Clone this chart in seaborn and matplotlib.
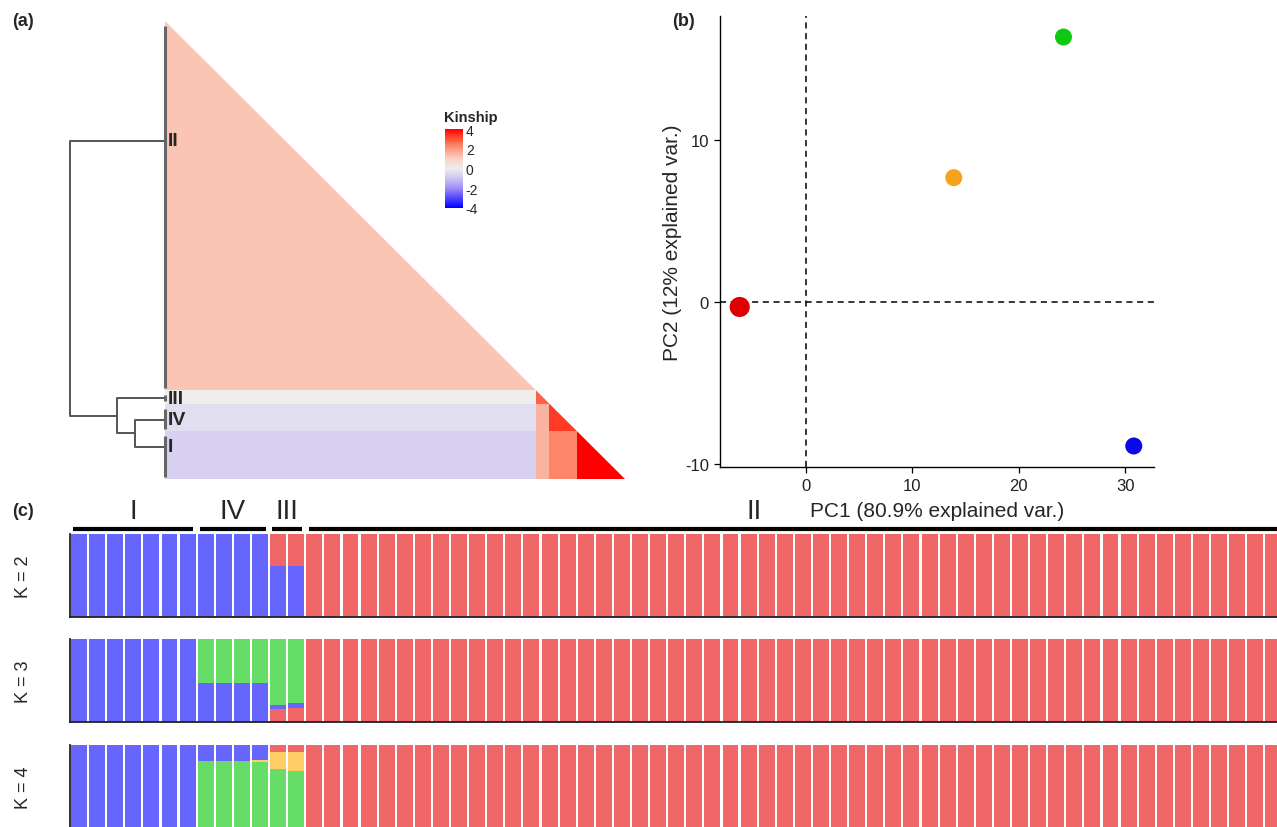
import numpy as np
import pandas as pd
import matplotlib
matplotlib.use("Agg")
import matplotlib.pyplot as plt
from matplotlib import font_manager
from matplotlib.colors import LinearSegmentedColormap
from matplotlib.patches import Polygon
from matplotlib.transforms import blended_transform_factory
import seaborn as sns

# ---------------- data ----------------
# (a) kinship: groups in heatmap order, block-level kinship values (lower triangle)
kin_groups = ["II", "III", "IV", "I"]
kin_sizes = [54, 2, 4, 7]
kin_block = [[1.2, np.nan, np.nan, np.nan],
             [0.0, 2.8, np.nan, np.nan],
             [-0.4, 1.5, 3.3, np.nan],
             [-0.7, 1.5, 2.3, 4.0]]
kin_ticks = [-4, -2, 0, 2, 4]
# dendrogram: leaf positions (row units) and merge heights
dendro_leaf_pos = [17.5, 55.2, 58.3, 62.3]
dendro_heights = [0.32, 0.50, 1.0]   # (IV,I), (III,(IV,I)), root

# (b) PCA
pca_groups = ["II", "III", "IV", "I"]
pc1 = [-6.2, 13.9, 24.2, 30.8]
pc2 = [-0.3, 7.7, 16.4, -8.9]
pca_colors = ["#DD0000", "#F5A21F", "#10C810", "#0808E8"]
pca_sizes = [210, 150, 150, 150]
pc_xticks = [0, 10, 20, 30]
pc_yticks = [-10, 0, 10]

# (c) STRUCTURE
struct_groups = ["I", "IV", "III", "II"]
struct_sizes = [7, 4, 2, 54]
header_label_x = [3, 8.5, 11.5, 37.3]
# cluster order listed top -> bottom of each bar
k2_clusters = ["red", "blue"]
k2_q = {"I": [[0.0, 1.0]], "IV": [[0.0, 1.0]],
        "III": [[0.38, 0.62], [0.38, 0.62]], "II": [[1.0, 0.0]]}
k3_clusters = ["green", "blue", "red"]
k3_q = {"I": [[0.0, 1.0, 0.0]], "IV": [[0.53, 0.47, 0.0]],
        "III": [[0.800, 0.048, 0.152], [0.776, 0.052, 0.172]],
        "II": [[0.0, 0.0, 1.0]]}
k4_clusters = ["red", "blue", "orange", "green"]
k4_q = {"I": [[0.0, 1.0, 0.0, 0.0]],
        "IV": [[0.0, 0.188, 0.0, 0.812], [0.0, 0.188, 0.0, 0.812],
               [0.0, 0.188, 0.0, 0.812], [0.0, 0.180, 0.028, 0.792]],
        "III": [[0.08, 0.0, 0.212, 0.708], [0.08, 0.0, 0.232, 0.688]],
        "II": [[1.0, 0.0, 0.0, 0.0]]}
struct_palette = {"red": "#F06666", "blue": "#6666FF",
                  "green": "#66DD66", "orange": "#FFCC66"}

# ---------------- style ----------------
sns.set_style("white")
avail = {f.name for f in font_manager.fontManager.ttflist}
narrow = "Liberation Sans Narrow" if "Liberation Sans Narrow" in avail else "Liberation Sans"
plt.rcParams["font.family"] = ["Liberation Sans", "DejaVu Sans"]
plt.rcParams["axes.unicode_minus"] = False

W, H = 1277, 828
fig = plt.figure(figsize=(W / 100, H / 100), dpi=100)


def ax_px(x0, y0, x1, y1):
    return fig.add_axes([x0 / W, 1 - y1 / H, (x1 - x0) / W, (y1 - y0) / H])


# ---------------- (a) kinship heatmap ----------------
n_kin = sum(kin_sizes)
grp_idx = np.repeat(np.arange(len(kin_groups)), kin_sizes)
blk = np.array(kin_block)
full = np.zeros((n_kin, n_kin))
for i in range(n_kin):
    for j in range(n_kin):
        a, b = grp_idx[i], grp_idx[j]
        full[i, j] = blk[max(a, b), min(a, b)]
mask = np.triu(np.ones_like(full, dtype=bool), k=1)

kin_cmap = LinearSegmentedColormap.from_list(
    "kin", [(0.0, "#0000FF"), (0.25, "#A08CF8"), (0.375, "#CEC4F2"),
            (0.5, "#EEEEEE"), (0.625, "#FCCFC2"), (0.75, "#FB9A82"),
            (0.875, "#FF5535"), (1.0, "#FF0000")])

ax_hm = ax_px(165, 22, 625, 480)
cax = ax_px(445, 130, 463, 209)
sns.heatmap(full, mask=mask, cmap=kin_cmap, vmin=-4, vmax=4, ax=ax_hm,
            cbar_ax=cax, xticklabels=False, yticklabels=False,
            cbar_kws={"ticks": kin_ticks})
ax_hm.axis("off")
tri = Polygon([(0, 0), (0, n_kin), (n_kin, n_kin)], closed=True,
              transform=ax_hm.transData)
ax_hm.collections[0].set_clip_path(tri)
cb = ax_hm.collections[0].colorbar
cb.outline.set_visible(False)
cax.tick_params(axis="y", which="both", direction="in", length=3,
                color="white", width=1, left=True, right=True,
                labelsize=10, pad=2)
cax.set_yticklabels([str(t) for t in kin_ticks])
fig.text(444 / W, 1 - 118 / H, "Kinship", fontsize=10.5, fontweight="bold",
         ha="left", va="center")

# dendrogram
ax_d = ax_px(60, 22, 165, 480)
ax_d.set_xlim(1.105, 0)
ax_d.set_ylim(n_kin, 0)
ax_d.axis("off")
y_ii, y_iii, y_iv, y_i = dendro_leaf_pos
h1, h2, h3 = dendro_heights
lc = "#555555"
c1 = (y_iv + y_i) / 2
ax_d.plot([0, h1, h1, 0], [y_iv, y_iv, y_i, y_i], color=lc, lw=1.4)
c2 = (y_iii + c1) / 2
ax_d.plot([0, h2, h2, h1], [y_iii, y_iii, c1, c1], color=lc, lw=1.4)
ax_d.plot([0, h3, h3, h2], [y_ii, y_ii, c2, c2], color=lc, lw=1.4)
# leaf bars
starts = np.cumsum([0] + kin_sizes[:-1])
for s, n in zip(starts, kin_sizes):
    ax_d.plot([0, 0], [s + 0.7, s + n - 0.35], color="#666666", lw=2.2,
              clip_on=False, solid_capstyle="butt")
for g, yp in zip(kin_groups, dendro_leaf_pos):
    ax_d.text(-0.03, yp, g, fontsize=14, fontweight="bold", va="center",
              ha="left", clip_on=False)

fig.text(12 / W, 1 - 22 / H, "(a)", fontsize=13, fontweight="bold",
         va="center", ha="left")

# ---------------- (b) PCA ----------------
ax_b = ax_px(720, 17, 1154, 468)
pca_df = pd.DataFrame({"PC1": pc1, "PC2": pc2, "group": pca_groups})
sns.scatterplot(data=pca_df, x="PC1", y="PC2", hue="group", size="group",
                palette=dict(zip(pca_groups, pca_colors)),
                sizes=dict(zip(pca_groups, pca_sizes)),
                linewidth=0, legend=False, ax=ax_b, zorder=3)
ax_b.axhline(0, color="black", ls=(0, (4, 3)), lw=1.1, zorder=1)
ax_b.axvline(0, color="black", ls=(0, (4, 3)), lw=1.1, zorder=1)
ax_b.set_xlim(-8.05, 32.7)
ax_b.set_ylim(-10.2, 17.7)
ax_b.set_xticks(pc_xticks)
ax_b.set_yticks(pc_yticks)
for s in ["top", "right"]:
    ax_b.spines[s].set_visible(False)
for s in ["left", "bottom"]:
    ax_b.spines[s].set_color("black")
    ax_b.spines[s].set_linewidth(1.0)
ax_b.tick_params(axis="both", direction="out", length=4, width=0.9,
                 color="black", labelsize=12, left=True, bottom=True, pad=4)
for lab in ax_b.get_xticklabels() + ax_b.get_yticklabels():
    lab.set_family([narrow, "DejaVu Sans"])
    lab.set_color("#222222")
ax_b.set_xlabel("PC1 (80.9% explained var.)", fontsize=15,
                family=[narrow, "DejaVu Sans"], labelpad=6)
ax_b.set_ylabel("PC2 (12% explained var.)", fontsize=15,
                family=[narrow, "DejaVu Sans"], labelpad=2)
fig.text(672 / W, 1 - 22 / H, "(b)", fontsize=13, fontweight="bold",
         va="center", ha="left")

# ---------------- (c) STRUCTURE ----------------


def build_long(qdict, clusters):
    rows = []
    ind = 0
    for g, n in zip(struct_groups, struct_sizes):
        q = qdict[g]
        for k in range(n):
            vals = q[k] if len(q) > 1 else q[0]
            for c, v in zip(clusters, vals):
                rows.append({"ind": ind, "cluster": c, "q": v})
            ind += 1
    return pd.DataFrame(rows)


n_ind = sum(struct_sizes)
rows_c = [("K = 2", k2_q, k2_clusters, 535, 618),
          ("K = 3", k3_q, k3_clusters, 640, 723),
          ("K = 4", k4_q, k4_clusters, 746, 829)]
axes_c = []
for lab, qd, cl, y0, y1 in rows_c:
    ax = ax_px(70, y0, 1277, y1)
    df = build_long(qd, cl)
    sns.histplot(data=df, x="ind", weights="q", hue="cluster", hue_order=cl,
                 multiple="stack", discrete=True, shrink=0.88,
                 palette=struct_palette, alpha=1, linewidth=0,
                 legend=False, ax=ax)
    ax.set_xlim(-0.5, n_ind - 0.8)
    ax.set_ylim(0, 1)
    ax.set_xticks([])
    ax.set_yticks([])
    ax.set_xlabel("")
    ax.set_ylabel(lab, fontsize=13, labelpad=27)
    for s in ["top", "right"]:
        ax.spines[s].set_visible(False)
    for s in ["left", "bottom"]:
        ax.spines[s].set_color("#222222")
        ax.spines[s].set_linewidth(1.3)
    axes_c.append(ax)

ax0 = axes_c[0]
tr = blended_transform_factory(ax0.transData, ax0.transAxes)
edges = np.cumsum([0] + struct_sizes) - 0.5
for i, g in enumerate(struct_groups):
    ax0.plot([edges[i] + 0.18, edges[i + 1] - 0.18], [1.065, 1.065],
             color="black", lw=3, transform=tr, clip_on=False,
             solid_capstyle="butt")
    ax0.text(header_label_x[i], 1.28, g, transform=tr, fontsize=20,
             ha="center", va="center", clip_on=False)

fig.text(12 / W, 1 - 512 / H, "(c)", fontsize=13, fontweight="bold",
         va="center", ha="left")

fig.savefig("out.png", dpi=100)
